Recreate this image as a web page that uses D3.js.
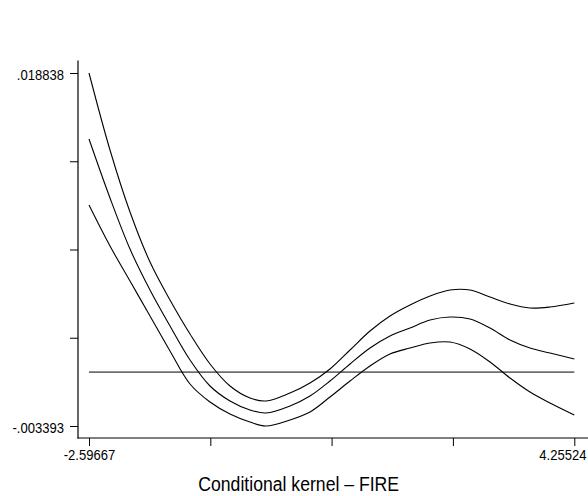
<!DOCTYPE html>
<html>
<head>
<meta charset="utf-8">
<script src="https://cdn.jsdelivr.net/npm/d3@7"></script>
<style>
  body { margin: 0; background: #fff; }
  text { font-family: "Liberation Sans", Arial, sans-serif; fill: #000; }
</style>
</head>
<body>
<script>
var width = 588,
    height = 496;

// grid of x values (FIRE)
var xs = [-2.5967, -2.3002, -2.0178, -1.7354, -1.4530, -1.1706, -0.8882, -0.6058, -0.3235, -0.0975,
    0.2413, 0.5237, 0.8061, 1.0885, 1.3709, 1.6532, 1.9356, 2.2180, 2.5004, 2.7828,
    3.0652, 3.3476, 3.6299, 3.9123, 4.2552];
// upper band
var upper = [0.018838, 0.013989, 0.010084, 0.006935, 0.004542, 0.002401, 0.000512, -0.000874, -0.001630, -0.001818,
    -0.001315, -0.000685, 0.000197, 0.001393, 0.002590, 0.003535, 0.004227, 0.004794, 0.005172, 0.005172,
    0.004731, 0.004290, 0.004038, 0.004101, 0.004353];
// estimate
var middle = [0.014682, 0.010966, 0.007754, 0.005172, 0.002905, 0.000764, -0.000874, -0.001818, -0.002385, -0.002574,
    -0.002133, -0.001504, -0.000559, 0.000512, 0.001519, 0.002275, 0.002779, 0.003283, 0.003472, 0.003346,
    0.002779, 0.002023, 0.001519, 0.001204, 0.000827];
// lower band
var lower = [0.010525, 0.007943, 0.005739, 0.003535, 0.001330, -0.000748, -0.001881, -0.002637, -0.003141, -0.003393,
    -0.003015, -0.002511, -0.001567, -0.000559, 0.000386, 0.001141, 0.001519, 0.001834, 0.001897, 0.001456,
    0.000638, -0.000370, -0.001252, -0.001944, -0.002700];

var xTickValues = [-2.59667, -0.8836925, 0.828285, 2.5412625, 4.25524];
var xTickLabels = ['-2.59667', '', '', '', '4.25524'];
var yTickValues = [-0.003393, 0.0021648, 0.0077225, 0.0132802, 0.018838];
var yTickLabels = ['-.003393', '', '', '', '.018838'];
var title = 'Conditional kernel \u2013 FIRE';

var svg = d3.select('body').append('svg').attr('width', width).attr('height', height);

var x = d3.scaleLinear().domain([xTickValues[0], xTickValues[4]]).range([89, 574.3]);
var y = d3.scaleLinear().domain([yTickValues[0], yTickValues[4]]).range([426, 73]);

var sx = 0.87; // labels are narrow

// y axis
var gy = svg.append('g').attr('transform', 'translate(78,0)')
    .call(d3.axisLeft(y).tickValues(yTickValues).tickSize(8).tickFormat(function (d, i) {
        return yTickLabels[i];
    }));
gy.select('.domain').remove();
gy.selectAll('.tick line').attr('stroke', '#000');
gy.selectAll('.tick text')
    .attr('font-size', 15)
    .attr('dy', null).attr('y', 6)
    .attr('x', -14 / sx)
    .attr('transform', 'scale(' + sx + ',1)');
svg.append('line').attr('x1', 78).attr('x2', 78).attr('y1', 60.5).attr('y2', 438.5)
    .attr('stroke', '#000').attr('stroke-width', 1.2);

// x axis
var gx = svg.append('g').attr('transform', 'translate(0,438)')
    .call(d3.axisBottom(x).tickValues(xTickValues).tickSize(8).tickFormat(function (d, i) {
        return xTickLabels[i];
    }));
gx.select('.domain').remove();
gx.selectAll('.tick line').attr('stroke', '#000');
gx.selectAll('.tick text')
    .attr('font-size', 15)
    .attr('dy', null).attr('y', 22)
    .attr('transform', 'scale(' + sx + ',1)')
    .each(function (d, i) {
        if (i == xTickValues.length - 1) {
            d3.select(this).attr('text-anchor', 'end').attr('x', (width - 2 - x(d)) / sx);
        }
    });
svg.append('line').attr('x1', 77.5).attr('x2', width).attr('y1', 438).attr('y2', 438)
    .attr('stroke', '#000').attr('stroke-width', 1.2);

// zero line
svg.append('line')
    .attr('x1', x(xTickValues[0])).attr('x2', x(xTickValues[4]))
    .attr('y1', y(0)).attr('y2', y(0))
    .attr('stroke', '#6e6e6e').attr('stroke-width', 1.6);

var line = d3.line()
    .x(function (d) { return x(d[0]); })
    .y(function (d) { return y(d[1]); })
    .curve(d3.curveCatmullRom.alpha(0.5));

[upper, middle, lower].forEach(function (s) {
    svg.append('path')
        .datum(xs.map(function (v, i) { return [v, s[i]]; }))
        .attr('d', line)
        .attr('fill', 'none')
        .attr('stroke', '#000')
        .attr('stroke-width', 1.1);
});

// title
svg.append('text')
    .attr('transform', 'translate(298.7,491) scale(0.84,1)')
    .attr('text-anchor', 'middle')
    .attr('font-size', 21)
    .text(title);
</script>
</body>
</html>
